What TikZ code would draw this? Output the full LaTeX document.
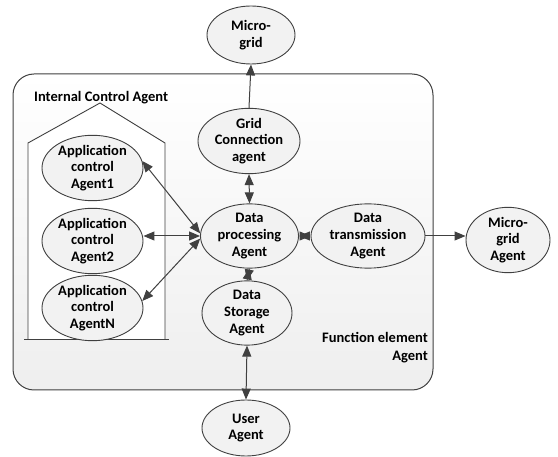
\documentclass[tikz,border=0pt]{standalone}
\usepackage{fontspec}
\setmainfont{Carlito}
\usetikzlibrary{shapes.geometric,arrows.meta}
\definecolor{ln}{HTML}{404040}
\definecolor{efill}{HTML}{F2F2F2}
\begin{document}
\begin{tikzpicture}[x=1pt,y=-1pt,
  agent/.style={ellipse,draw=ln,line width=0.9pt,fill=efill,inner sep=0pt,
    align=center,font=\bfseries\fontsize{14.5}{16.8}\selectfont},
  conn/.style={draw=ln,line width=1pt},
  tip/.style={-{Triangle[length=11pt,width=9pt]}},
  dtip/.style={{Triangle[length=11pt,width=9pt]}-{Triangle[length=11pt,width=9pt]}},
  lbl/.style={font=\bfseries\fontsize{14.5}{18}\selectfont,inner sep=0pt}]
\useasboundingbox (0,0) rectangle (558,457);
% outer box
\path[top color=white,bottom color=gray!13,draw=ln,line width=1pt,rounded corners=21pt]
  (13,74) rectangle (433,390);
% pentagon
\path[fill=white,draw=ln,line width=0.9pt] (28,340) -- (28,143) -- (100,103) -- (165,143) -- (165,340);
\draw[ln,line width=1pt] (24,340) -- (169,340);
\node[lbl,anchor=base west] (ica) at (34,102) {Internal Control Agent};
\node[lbl,anchor=east,align=right] (fea) at (428,348) {Function element\\Agent};
% nodes
\node[agent,minimum width=88pt,minimum height=58pt] (mg) at (251,35) {Micro-\\grid};
\node[agent,minimum width=102pt,minimum height=64pt] (gc) at (249,141) {Grid\\Connection\\agent};
\node[agent,minimum width=98pt,minimum height=64pt] (dp) at (249.5,236) {Data\\processing\\Agent};
\node[agent,minimum width=114pt,minimum height=64pt] (dt) at (368,236) {Data\\transmission\\Agent};
\node[agent,minimum width=84pt,minimum height=56pt] (mga) at (508,240) {Micro-\\grid\\Agent};
\node[agent,minimum width=90pt,minimum height=60pt] (ds) at (247,313) {Data\\Storage\\Agent};
\node[agent,minimum width=88pt,minimum height=56pt] (ua) at (246,428) {User\\Agent};
\node[agent,minimum width=101pt,minimum height=62pt] (a1) at (92.5,168) {Application\\control\\Agent1};
\node[agent,minimum width=101pt,minimum height=62pt] (a2) at (92.5,241) {Application\\control\\Agent2};
\node[agent,minimum width=101pt,minimum height=58pt] (an) at (92.5,308) {Application\\control\\AgentN};
% connectors
\draw[conn,tip] (gc.north) -- (mg.south);
\draw[conn,dtip] (gc.south) -- (dp.north);
\draw[conn,dtip] (a1.8) -- (dp.177);
\draw[conn,dtip] (a2.east|-dp.west) -- (dp.west);
\draw[conn,dtip] (an.8) -- (dp.183);
\draw[conn,dtip] (dp.south) -- (ds.north);
\draw[conn,dtip] (dp.east) -- (dt.west);
\draw[conn,tip] (dt.east) -- (mga.west|-dt.east);
\draw[conn,dtip] (ds.south) -- (ua.north);
\end{tikzpicture}
\end{document}
